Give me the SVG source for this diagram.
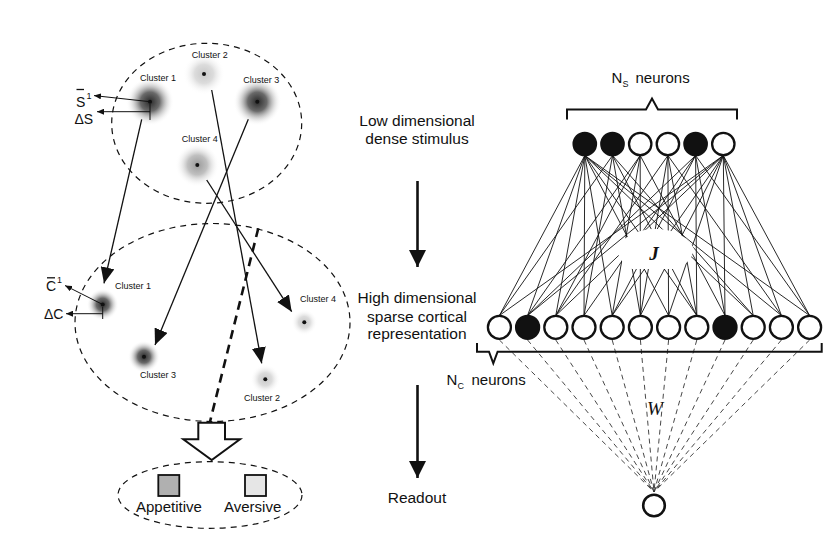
<svg xmlns="http://www.w3.org/2000/svg" width="837" height="540" viewBox="0 0 837 540">
<style>
text{font-family:"Liberation Sans",Arial,sans-serif;fill:#111}
.cl{font-size:9px}
.mid{font-size:15.5px;text-anchor:middle}
.lbl{font-size:15px}
.dash{fill:none;stroke:#111;stroke-width:1.2;stroke-dasharray:6 5}
.ar{stroke:#111;stroke-width:1.3;fill:none}
.sm{stroke:#111;stroke-width:1;fill:none}
.net{stroke:#111;stroke-width:0.9}
.w{stroke:#333;stroke-width:0.9;stroke-dasharray:5 4}
.on{fill:#111;stroke:#111;stroke-width:2.3}
.off{fill:#fff;stroke:#111;stroke-width:2.3}
.dot{fill:#111}
</style>
<defs>
<radialGradient id="gDark"><stop offset="0" stop-color="#2a2a2a"/><stop offset="0.4" stop-color="#6a6a6a"/><stop offset="1" stop-color="#fff" stop-opacity="0"/></radialGradient>
<radialGradient id="gMed"><stop offset="0" stop-color="#9a9a9a"/><stop offset="0.45" stop-color="#c0c0c0"/><stop offset="1" stop-color="#fff" stop-opacity="0"/></radialGradient>
<radialGradient id="gLight"><stop offset="0" stop-color="#c8c8c8"/><stop offset="0.45" stop-color="#dcdcdc"/><stop offset="1" stop-color="#fff" stop-opacity="0"/></radialGradient>
<marker id="big" markerUnits="userSpaceOnUse" markerWidth="17" markerHeight="14" refX="16" refY="7" orient="auto"><path d="M0,0 L16,7 L0,14 z" fill="#111"/></marker>
<marker id="small" markerUnits="userSpaceOnUse" markerWidth="8" markerHeight="6" refX="7" refY="3" orient="auto"><path d="M0,0 L7,3 L0,6 z" fill="#111"/></marker>
<marker id="thick" markerUnits="userSpaceOnUse" markerWidth="18" markerHeight="18" refX="17" refY="8.5" orient="auto"><path d="M0,0 L17,8.5 L0,17 z" fill="#111"/></marker>
</defs>
<rect width="837" height="540" fill="#fff"/>

<!-- Left: stimulus space -->
<g id="stimulus-space">
<ellipse class="dash" cx="206.7" cy="123.3" rx="95" ry="80"/>
<circle cx="150" cy="101.7" r="24" fill="url(#gDark)"/>
<circle cx="204" cy="74" r="21" fill="url(#gLight)"/>
<circle cx="257.3" cy="101.7" r="24" fill="url(#gDark)"/>
<circle cx="197.3" cy="165" r="22" fill="url(#gMed)"/>
<circle class="dot" cx="150" cy="101.7" r="2"/>
<circle class="dot" cx="204" cy="74" r="2"/>
<circle class="dot" cx="257.3" cy="101.7" r="2"/>
<circle class="dot" cx="197.3" cy="165" r="2"/>
<text class="cl" x="140" y="80.5">Cluster 1</text>
<text class="cl" x="191.7" y="58">Cluster 2</text>
<text class="cl" x="243.3" y="82.5">Cluster 3</text>
<text class="cl" x="181.7" y="142">Cluster 4</text>
<line class="sm" x1="150" y1="101.7" x2="94" y2="95.6" marker-end="url(#small)"/>
<line class="sm" x1="150" y1="111.7" x2="97" y2="111.7" marker-end="url(#small)"/>
<line class="sm" x1="150" y1="104" x2="150" y2="120"/>
<text class="lbl" x="76" y="106.5" style="font-size:14px">S</text>
<line class="sm" x1="76.5" y1="89.5" x2="84" y2="89.5" style="stroke-width:1.3"/>
<text x="86.5" y="98.5" style="font-size:9px">1</text>
<text class="lbl" x="74.5" y="124" style="font-size:14px">ΔS</text>
</g>

<g id="cortical-space">
<ellipse class="dash" cx="212.5" cy="322.5" rx="137.5" ry="99"/>
<circle cx="102.7" cy="304.5" r="16" fill="url(#gDark)"/>
<circle cx="144" cy="356.7" r="16" fill="url(#gDark)"/>
<circle cx="304.3" cy="322.3" r="13" fill="url(#gLight)"/>
<circle cx="265.3" cy="379.3" r="15" fill="url(#gLight)"/>
<circle class="dot" cx="102.7" cy="304.5" r="2"/>
<circle class="dot" cx="144" cy="356.7" r="2"/>
<circle class="dot" cx="304.3" cy="322.3" r="2"/>
<circle class="dot" cx="265.3" cy="379.3" r="2"/>
<text class="cl" x="115" y="289">Cluster 1</text>
<text class="cl" x="300" y="301.5">Cluster 4</text>
<text class="cl" x="140" y="378">Cluster 3</text>
<text class="cl" x="244" y="400.5">Cluster 2</text>
<line class="sm" x1="102.7" y1="304.5" x2="65" y2="285.5" marker-end="url(#small)"/>
<line class="sm" x1="102.7" y1="313.7" x2="66" y2="313.7" marker-end="url(#small)"/>
<line class="sm" x1="102.7" y1="307" x2="102.7" y2="319"/>
<text class="lbl" x="46" y="290.5" style="font-size:14px">C</text>
<line class="sm" x1="47" y1="277.8" x2="55" y2="277.8" style="stroke-width:1.3"/>
<text x="57" y="283" style="font-size:9px">1</text>
<text class="lbl" x="44" y="319" style="font-size:14px">ΔC</text>
</g>

<g id="readout-space">
<ellipse class="dash" cx="210" cy="495" rx="92" ry="33.3"/>
<rect x="158.3" y="475" width="21" height="21" fill="#b0b0b0" stroke="#111" stroke-width="1.8"/>
<rect x="245" y="475" width="21" height="21" fill="#e6e6e6" stroke="#111" stroke-width="1.8"/>
<text class="lbl" x="136" y="511.7">Appetitive</text>
<text class="lbl" x="224" y="511.7">Aversive</text>
</g>

<g id="block-arrow">
<polygon points="198.3,422.7 225,422.7 225,439.3 240,439.3 211.7,460 183.3,439.3 198.3,439.3" fill="#fff" stroke="#111" stroke-width="2" stroke-linejoin="miter"/>
</g>

<g id="connectors-left">
<line class="ar" x1="141.7" y1="119.3" x2="104" y2="283.3" marker-end="url(#big)"/>
<line class="ar" x1="211.7" y1="90" x2="261.7" y2="363.3" marker-end="url(#big)"/>
<line class="ar" x1="248.3" y1="119.3" x2="155" y2="345" marker-end="url(#big)"/>
<line class="ar" x1="206.7" y1="180" x2="291.7" y2="311.7" marker-end="url(#big)"/>
<line x1="258.3" y1="228.3" x2="210" y2="421.7" stroke="#111" stroke-width="2.6" stroke-dasharray="9 6"/>
</g>

<!-- Middle labels -->
<g id="middle">
<text class="mid" x="417" y="126">Low dimensional</text>
<text class="mid" x="417" y="143.5">dense stimulus</text>
<text class="mid" x="417" y="303.3">High dimensional</text>
<text class="mid" x="417" y="321.5">sparse cortical</text>
<text class="mid" x="417" y="339.3">representation</text>
<text class="mid" x="417" y="503">Readout</text>
<line x1="417.5" y1="181" x2="417.5" y2="267" stroke="#111" stroke-width="2.6" marker-end="url(#thick)"/>
<line x1="417.5" y1="385" x2="417.5" y2="478" stroke="#111" stroke-width="2.6" marker-end="url(#thick)"/>
</g>

<!-- Right network connectors -->
<g id="connectors-network">
<g class="net">
<line x1="584.8" y1="155.5" x2="499.4" y2="315.5"/><line x1="584.8" y1="155.5" x2="527.6" y2="315.5"/><line x1="584.8" y1="155.5" x2="555.8" y2="315.5"/><line x1="584.8" y1="155.5" x2="584" y2="315.5"/><line x1="584.8" y1="155.5" x2="612.2" y2="315.5"/><line x1="584.8" y1="155.5" x2="668.6" y2="315.5"/><line x1="584.8" y1="155.5" x2="696.8" y2="315.5"/><line x1="584.8" y1="155.5" x2="753.2" y2="315.5"/><line x1="584.8" y1="155.5" x2="781.4" y2="315.5"/><line x1="584.8" y1="155.5" x2="809.6" y2="315.5"/>
<line x1="612.5" y1="155.5" x2="499.4" y2="315.5"/><line x1="612.5" y1="155.5" x2="584" y2="315.5"/><line x1="612.5" y1="155.5" x2="640.4" y2="315.5"/><line x1="612.5" y1="155.5" x2="696.8" y2="315.5"/><line x1="612.5" y1="155.5" x2="753.2" y2="315.5"/>
<line x1="640.2" y1="155.5" x2="527.6" y2="315.5"/><line x1="640.2" y1="155.5" x2="555.8" y2="315.5"/><line x1="640.2" y1="155.5" x2="612.2" y2="315.5"/><line x1="640.2" y1="155.5" x2="640.4" y2="315.5"/><line x1="640.2" y1="155.5" x2="725" y2="315.5"/>
<line x1="667.9" y1="155.5" x2="555.8" y2="315.5"/><line x1="667.9" y1="155.5" x2="640.4" y2="315.5"/><line x1="667.9" y1="155.5" x2="668.6" y2="315.5"/><line x1="667.9" y1="155.5" x2="696.8" y2="315.5"/><line x1="667.9" y1="155.5" x2="781.4" y2="315.5"/>
<line x1="695.6" y1="155.5" x2="527.6" y2="315.5"/><line x1="695.6" y1="155.5" x2="584" y2="315.5"/><line x1="695.6" y1="155.5" x2="612.2" y2="315.5"/><line x1="695.6" y1="155.5" x2="696.8" y2="315.5"/><line x1="695.6" y1="155.5" x2="725" y2="315.5"/><line x1="695.6" y1="155.5" x2="809.6" y2="315.5"/>
<line x1="723.3" y1="155.5" x2="499.4" y2="315.5"/><line x1="723.3" y1="155.5" x2="527.6" y2="315.5"/><line x1="723.3" y1="155.5" x2="555.8" y2="315.5"/><line x1="723.3" y1="155.5" x2="612.2" y2="315.5"/><line x1="723.3" y1="155.5" x2="640.4" y2="315.5"/><line x1="723.3" y1="155.5" x2="668.6" y2="315.5"/><line x1="723.3" y1="155.5" x2="725" y2="315.5"/><line x1="723.3" y1="155.5" x2="753.2" y2="315.5"/><line x1="723.3" y1="155.5" x2="781.4" y2="315.5"/><line x1="723.3" y1="155.5" x2="809.6" y2="315.5"/>
</g>
<g class="w">
<line x1="499.4" y1="340" x2="654" y2="492"/><line x1="527.6" y1="340" x2="654" y2="492"/><line x1="555.8" y1="340" x2="654" y2="492"/><line x1="584" y1="340" x2="654" y2="492"/><line x1="612.2" y1="340" x2="654" y2="492"/><line x1="640.4" y1="340" x2="654" y2="492"/><line x1="668.6" y1="340" x2="654" y2="492"/><line x1="696.8" y1="340" x2="654" y2="492"/><line x1="725" y1="340" x2="654" y2="492"/><line x1="753.2" y1="340" x2="654" y2="492"/><line x1="781.4" y1="340" x2="654" y2="492"/><line x1="809.6" y1="340" x2="654" y2="492"/>
</g>
</g>

<g id="J-label">
<path d="M617,249 C622,236 640,229 655,229 C672,229 689,236 694,249 C692,259 685,266 677,269 L632,269 C624,266 618,258 617,249 Z" fill="#fff"/>
<text x="654" y="260" style="font-family:'Liberation Serif',serif;font-style:italic;font-weight:bold;font-size:19px;text-anchor:middle">J</text>
</g>
<text x="655" y="415" style="font-family:'Liberation Serif',serif;font-style:italic;font-size:19px;text-anchor:middle">W</text>

<g id="stimulus-neurons">
<path d="M567,119.5 V109.5 H646 L652,98.5 L658,109.5 H737 V119.5" fill="none" stroke="#111" stroke-width="2"/>
<text class="lbl" x="611.5" y="82.5">N</text>
<text x="622.5" y="86.5" style="font-size:9px">S</text>
<text class="lbl" x="635.5" y="82.5">neurons</text>
<circle class="on" cx="584.8" cy="144" r="11.2"/>
<circle class="on" cx="612.5" cy="144" r="11.2"/>
<circle class="off" cx="640.2" cy="144" r="11.2"/>
<circle class="off" cx="667.9" cy="144" r="11.2"/>
<circle class="on" cx="695.6" cy="144" r="11.2"/>
<circle class="off" cx="723.3" cy="144" r="11.2"/>
</g>

<g id="cortical-neurons">
<circle class="off" cx="499.4" cy="327.3" r="11.5"/>
<circle class="on" cx="527.6" cy="327.3" r="11.5"/>
<circle class="off" cx="555.8" cy="327.3" r="11.5"/>
<circle class="off" cx="584" cy="327.3" r="11.5"/>
<circle class="off" cx="612.2" cy="327.3" r="11.5"/>
<circle class="off" cx="640.4" cy="327.3" r="11.5"/>
<circle class="off" cx="668.6" cy="327.3" r="11.5"/>
<circle class="off" cx="696.8" cy="327.3" r="11.5"/>
<circle class="on" cx="725" cy="327.3" r="11.5"/>
<circle class="off" cx="753.2" cy="327.3" r="11.5"/>
<circle class="off" cx="781.4" cy="327.3" r="11.5"/>
<circle class="off" cx="809.6" cy="327.3" r="11.5"/>
<path d="M477,343 V351.7 H489 L493.3,363.3 L497.6,351.7 H821.7 V343" fill="none" stroke="#111" stroke-width="2"/>
<text class="lbl" x="446.5" y="385">N</text>
<text x="457.5" y="389" style="font-size:9px">C</text>
<text class="lbl" x="471.5" y="385">neurons</text>
</g>

<g id="readout-neuron">
<circle class="off" cx="654" cy="505.5" r="10.8" style="stroke-width:2.6"/>
</g>
</svg>
